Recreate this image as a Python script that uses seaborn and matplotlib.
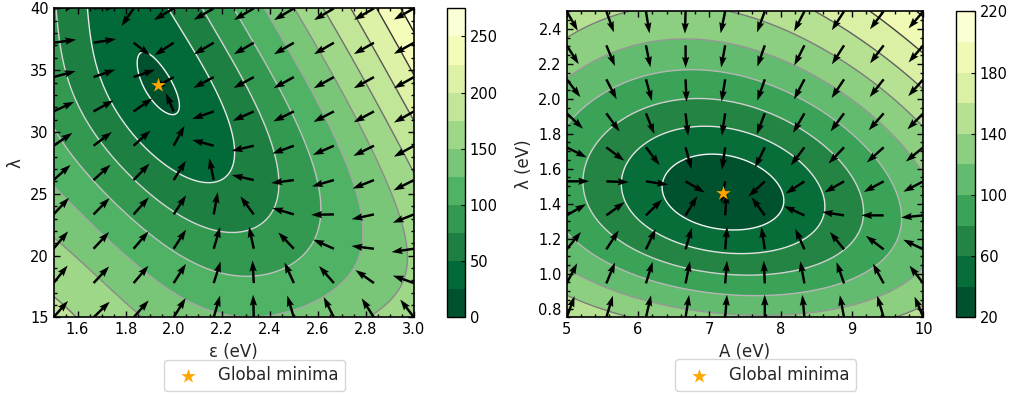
import numpy as np
import matplotlib
matplotlib.use("Agg")
import matplotlib.pyplot as plt
from matplotlib.ticker import AutoMinorLocator
import seaborn as sns

# ---------------- left panel: error ----------------
eps_min, lam_min, err_min = 1.935, 33.8, 21.5
eps_pts = [1.885, 1.867, 1.871, 1.929, 1.964, 1.999, 2.006, 1.978, 1.929,              # 25
           1.638, 1.686, 1.742, 1.818, 1.902, 2.026, 2.138, 2.214, 2.242, 2.242, 2.20, 2.11, 1.98,  # 50
           1.506, 1.582, 1.707, 1.86, 2.0, 2.165, 2.30, 2.40, 2.429, 2.415, 2.359, 2.262, 2.124,   # 75
           1.5, 1.569, 1.75, 1.902, 2.179, 2.331, 2.526, 2.61, 2.59, 2.52, 2.40, 2.247,            # 100
           1.5, 1.763, 2.04, 2.346, 2.526, 2.776, 2.74, 2.64, 2.50, 2.36,                         # 125
           1.5, 1.694, 1.832, 2.845, 2.914, 2.97, 2.92, 2.80, 2.65, 2.484,                        # 150
           1.5, 1.58, 2.63, 2.83, 3.0,                                                            # 175
           2.745, 2.88, 3.0,                                                                      # 200
           2.855, 3.0,                                                                            # 225
           2.94, 3.0,                                                                             # 250
           1.5, 3.0, 3.0, 1.5]                                                                    # corners
lam_pts = [36.23, 35.56, 34.34, 32.59, 31.84, 31.78, 32.86, 34.2, 35.83,
           40, 36.63, 33.67, 30.97, 28.81, 26.66, 25.85, 26.12, 27.73, 29.9, 33.13, 36.63, 40,
           39.5, 32.6, 28.5, 25.0, 23.1, 21.9, 21.9, 23.15, 25.85, 29.35, 32.59, 36.37, 40,
           30.16, 28.54, 24.8, 22.3, 18.6, 18.16, 19.64, 22.5, 26.0, 30.0, 34.5, 40,
           26.2, 21.53, 17.2, 15.27, 15.87, 21.8, 26.0, 30.0, 35.0, 40,
           20.7, 17.76, 15.0, 15.0, 17.2, 20.2, 25.0, 30.0, 35.0, 40,
           16.6, 15.0, 40, 33.0, 27.0,
           40, 35.3, 30.6,
           40, 34.5,
           40, 38.0,
           15, 15, 40, 40]
err_pts = [25] * 9 + [50] * 13 + [75] * 13 + [100] * 12 + [125] * 10 + [150] * 10 \
    + [175] * 5 + [200] * 3 + [225] * 2 + [250] * 2 + [185, 165, 265, 78]

# ---------------- right panel ----------------
a_min, lam2_min, err2_min = 7.19, 1.46, 22.0
a_pts = [6.354, 6.495, 6.775, 6.963, 7.57, 8.03, 7.57, 7.149, 6.775, 6.448,     # 40
         5.803, 5.981, 6.308, 6.73, 8.27, 8.607, 8.27, 7.55, 6.448, 5.981,      # 60
         5.28, 5.467, 5.841, 6.635, 8.6, 9.158, 8.6, 7.57, 5.841, 5.42,         # 80
         5.0, 6.6, 9.11, 9.696, 9.11, 7.71, 5.0,                                 # 100
         5.0, 6.4, 10.0, 10.0, 7.75, 6.775, 5.0,                                 # 120
         5.0, 5.79, 10.0, 10.0, 5.0,                                             # 140
         8.74, 10.0, 9.49, 10.0, 9.86, 10.0,                                     # 160/180/200
         5.0, 10.0, 5.0, 10.0]                                                   # corners
lam2_pts = [1.52, 1.614, 1.671, 1.685, 1.64, 1.424, 1.26, 1.253, 1.291, 1.386,
            1.538, 1.709, 1.804, 1.846, 1.64, 1.395, 1.185, 1.12, 1.215, 1.348,
            1.52, 1.766, 1.88, 2.0, 1.733, 1.377, 1.07, 0.987, 1.177, 1.329,
            1.9, 2.166, 1.763, 1.348, 1.0, 0.875, 1.29,
            2.19, 2.33, 1.59, 1.05, 0.768, 0.816, 1.03,
            2.42, 2.48, 1.88, 0.84, 0.854,
            2.5, 2.07, 2.5, 2.26, 2.5, 2.43,
            0.75, 0.75, 2.5, 2.5]
err2_pts = [40] * 10 + [60] * 10 + [80] * 10 + [100] * 7 + [120] * 7 + [140] * 5 \
    + [160, 160, 180, 180, 200, 200] + [158, 145, 165, 212]

levels1 = np.arange(0, 276, 25)
levels2 = np.arange(20, 221, 20)
cticks1 = [0, 50, 100, 150, 200, 250]
cticks2 = [20, 60, 100, 140, 180, 220]


def fit_surface(x, y, z, x0, y0, z0, deg):
    # least squares fit of err^2 with a polynomial in axis fractions
    pw = [(i, j) for i in range(deg + 1) for j in range(deg + 1 - i)]

    def basis(xx, yy):
        return np.stack([xx ** i * yy ** j for i, j in pw], axis=-1)

    def dbasis(xx, yy):
        bx = np.stack([i * xx ** max(i - 1, 0) * yy ** j for i, j in pw], axis=-1)
        by = np.stack([j * xx ** i * yy ** max(j - 1, 0) for i, j in pw], axis=-1)
        return bx, by

    z = np.asarray(z, float)
    w = 1.0 / z
    k = 10.0 / z0
    bx0, by0 = dbasis(np.array([x0]), np.array([y0]))
    A = np.vstack([basis(x, y) * w[:, None],
                   basis(np.array([x0]), np.array([y0])) * k,
                   bx0 * k, by0 * k])
    b = np.concatenate([z ** 2 * w, [z0 ** 2 * k], [0.0], [0.0]])
    coef = np.linalg.lstsq(A, b, rcond=None)[0]
    return (lambda xx, yy: basis(xx, yy) @ coef,
            lambda xx, yy: (dbasis(xx, yy)[0] @ coef, dbasis(xx, yy)[1] @ coef))


def draw_panel(ax, cax, xs, ys, zs, x0, y0, z0, xlim, ylim, levels, cticks, deg, xlabel, ylabel):
    fx = lambda v: (np.asarray(v, float) - xlim[0]) / (xlim[1] - xlim[0])
    fy = lambda v: (np.asarray(v, float) - ylim[0]) / (ylim[1] - ylim[0])
    P, dP = fit_surface(fx(xs), fy(ys), zs, fx(x0), fy(y0), z0, deg)

    gx = np.linspace(xlim[0], xlim[1], 220)
    gy = np.linspace(ylim[0], ylim[1], 220)
    X, Y = np.meshgrid(gx, gy)
    Z = np.sqrt(np.clip(P(fx(X), fy(Y)), 1.0, None))

    cf = ax.contourf(X, Y, Z, levels=levels, cmap="YlGn_r")
    ax.contour(X, Y, Z, levels=levels, cmap="Greys", linewidths=1.0)

    # direction of steepest descent on a 10x10 grid
    qx, qy = np.meshgrid(np.linspace(xlim[0], xlim[1], 10), np.linspace(ylim[0], ylim[1], 10))
    E = np.sqrt(np.clip(P(fx(qx), fy(qy)), 1.0, None))
    dPx, dPy = dP(fx(qx), fy(qy))
    W, H = ax.bbox.width, ax.bbox.height
    ex = dPx / (2 * E)
    ey = dPy / (2 * E) * W / H
    n = np.sqrt(ex ** 2 + ey ** 2 + 40.0 ** 2)
    ax.quiver(qx, qy, -ex / n, -ey / n, angles="uv", scale_units="width", scale=1 / 0.064,
              width=0.0068, headwidth=3.0, headlength=4.5, headaxislength=4.0,
              color="black", zorder=3)

    sns.scatterplot(x=[x0], y=[y0], marker="*", s=120, color="orange", linewidth=0,
                    label="Global minima", ax=ax, zorder=5)

    ax.set_xlim(xlim)
    ax.set_ylim(ylim)
    ax.set_axisbelow(False)
    ax.set_xlabel(xlabel, fontsize=12)
    ax.set_ylabel(ylabel, fontsize=12)
    ax.xaxis.set_minor_locator(AutoMinorLocator())
    ax.yaxis.set_minor_locator(AutoMinorLocator())
    ax.tick_params(which="both", direction="in", top=True, right=True, labelsize=10.5,
                   colors="black", width=1.0)
    ax.tick_params(which="major", length=4.5)
    ax.tick_params(which="minor", length=2.5)
    for s in ax.spines.values():
        s.set_color("black")
        s.set_linewidth(1.2)
        s.set_zorder(6)
    ax.legend(loc="upper center", bbox_to_anchor=(0.558, -0.11), fontsize=12, frameon=True)

    cb = plt.colorbar(cf, cax=cax, ticks=cticks)
    cb.ax.set_axisbelow(False)
    cb.ax.tick_params(direction="in", labelsize=10.5, length=3, colors="black")
    cb.outline.set_linewidth(1.0)
    cb.outline.set_edgecolor("black")


sns.set_style("ticks")
plt.rcParams["font.family"] = ["DejaVu Sans"]
plt.rcParams["axes.axisbelow"] = False

fig = plt.figure(figsize=(10.13, 3.94), dpi=100)
bot = (394 - 317.4) / 394
ax1 = fig.add_axes([53.5 / 1013, bot, 360.5 / 1013, 309 / 394])
cax1 = fig.add_axes([446.7 / 1013, bot, 18.3 / 1013, 309 / 394])
ax2 = fig.add_axes([566.7 / 1013, bot, 356.6 / 1013, 306.1 / 394])
cax2 = fig.add_axes([956 / 1013, bot, 19 / 1013, 306.1 / 394])

draw_panel(ax1, cax1, eps_pts, lam_pts, err_pts, eps_min, lam_min, err_min,
           (1.5, 3.0), (15, 40), levels1, cticks1, 5, "ε (eV)", "λ")
draw_panel(ax2, cax2, a_pts, lam2_pts, err2_pts, a_min, lam2_min, err2_min,
           (5, 10), (0.75, 2.5), levels2, cticks2, 3, "A (eV)", "λ (eV)")

fig.savefig("out.png", dpi=100)
